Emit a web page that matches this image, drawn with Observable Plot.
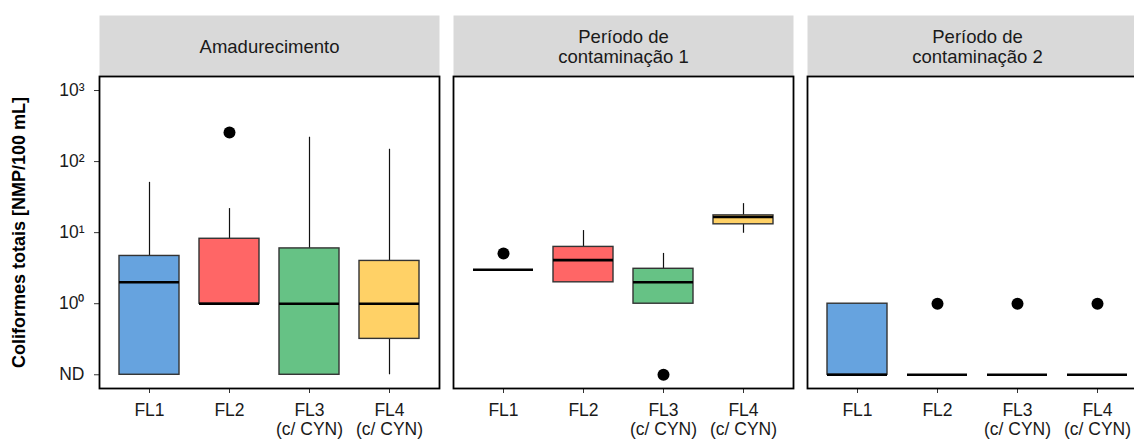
<!DOCTYPE html>
<html>
<head>
<meta charset="utf-8">
<script src="https://cdn.jsdelivr.net/npm/d3@7"></script>
<script src="https://cdn.jsdelivr.net/npm/@observablehq/plot@0.6"></script>
<style>
  html, body { margin: 0; padding: 0; background: #fff; overflow: hidden; }
  #chart svg { display: block; max-width: none; }
  g[aria-label="y-axis label"] text { font-weight: bold; font-size: 18px; fill: #000; }
</style>
</head>
<body>
<div id="chart"></div>
<script>
// ---- data ----
const periods = ["Amadurecimento", "Período de contaminação 1", "Período de contaminação 2"];
const periodLabels = ["Amadurecimento", "Período de\ncontaminação 1", "Período de\ncontaminação 2"];
const groups = ["FL1", "FL2", "FL3", "FL4"];
const groupLabels = ["FL1", "FL2", "FL3\n(c/ CYN)", "FL4\n(c/ CYN)"];
const colors = ["#66A3DF", "#FF6666", "#66C285", "#FFD166"];
const yTicks = [0.1, 1, 10, 100, 1000];
const yTickLabels = ["ND", "10⁰", "10¹", "10²", "10³"];

// per period, per group (FL1..FL4); ND plotted at 0.1
const whiskerLow = [[0.1, 1, 0.1, 0.1], [3, 2, 1, 9.8], [0.1, 0.1, 0.1, 0.1]];
const quart1     = [[0.1, 1, 0.1, 0.32], [3, 2, 1, 13.1], [0.1, 0.1, 0.1, 0.1]];
const medians    = [[2, 1, 1, 1], [3, 4.1, 2, 16.6], [0.1, 0.1, 0.1, 0.1]];
const quart3     = [[4.7, 8.2, 6.0, 4.0], [3, 6.3, 3.1, 17.5], [1, 0.1, 0.1, 0.1]];
const whiskerHigh= [[51, 21.8, 220, 149], [3, 10.7, 5.1, 25.6], [1, 0.1, 0.1, 0.1]];
const outlierPeriod = [0, 1, 1, 2, 2, 2];
const outlierGroup  = [1, 0, 2, 1, 2, 3];
const outlierValue  = [256, 5.1, 0.1, 1, 1, 1];

// ---- tables built from the arrays ----
const rows = [];
periods.forEach((p, i) => groups.forEach((g, j) => rows.push({
  period: p, group: g,
  lo: whiskerLow[i][j], q1: quart1[i][j], med: medians[i][j], q3: quart3[i][j], hi: whiskerHigh[i][j]
})));
const outliers = outlierValue.map((v, k) => ({period: periods[outlierPeriod[k]], group: groups[outlierGroup[k]], value: v}));

const plot = Plot.plot({
  width: 1134,
  height: 439,
  marginLeft: 99,
  marginRight: -13,
  marginTop: 76,
  marginBottom: 51,
  style: {fontFamily: "'Liberation Sans', Arial, sans-serif", fontSize: "17px", color: "#1a1a1a", background: "#fff"},
  fx: {domain: periods, axis: null, paddingInner: 14 / 354, paddingOuter: 0},
  x: {domain: groups, paddingInner: 0.25, paddingOuter: 0.225},
  y: {type: "log", domain: [0.0641, 1575]},
  color: {domain: groups, range: colors},
  marks: [
    // facet strips
    Plot.frame({fill: "#d9d9d9", insetTop: -61, insetBottom: 312}),
    Plot.text(periods, {fx: d => d, text: d => periodLabels[periods.indexOf(d)], frameAnchor: "top", dy: -30, lineAnchor: "middle", fontSize: 18.5, lineHeight: 1.09, fill: "#1a1a1a"}),
    // axes
    Plot.axisY({ticks: yTicks, tickFormat: d => yTickLabels[yTicks.indexOf(d)], tickSize: 5, tickPadding: 10, fontSize: 17.5, stroke: "#333", fill: "#1a1a1a",
      label: "Coliformes totais [NMP/100 mL]", labelAnchor: "center", labelArrow: "none", labelOffset: 87}),
    Plot.axisX({tickFormat: d => groupLabels[groups.indexOf(d)], tickSize: 5, tickPadding: 9.5, fontSize: 17.5, lineHeight: 1.08, stroke: "#333", fill: "#1a1a1a", label: null}),
    // whiskers
    Plot.ruleX(rows, {fx: "period", x: "group", y1: "q3", y2: "hi", stroke: "#111", strokeWidth: 1.2}),
    Plot.ruleX(rows, {fx: "period", x: "group", y1: "lo", y2: "q1", stroke: "#111", strokeWidth: 1.2}),
    // boxes
    Plot.barY(rows, {fx: "period", x: "group", y1: "q1", y2: "q3", fill: "group", stroke: "#333", strokeWidth: 1.4}),
    // medians
    Plot.tickY(rows, {fx: "period", x: "group", y: "med", stroke: "#000", strokeWidth: 2.6}),
    // outliers
    Plot.dot(outliers, {fx: "period", x: "group", y: "value", r: 6, fill: "#000", stroke: "none"}),
    // panel border
    Plot.frame({stroke: "#000", strokeWidth: 1.8})
  ]
});
document.getElementById("chart").appendChild(plot);
</script>
</body>
</html>
